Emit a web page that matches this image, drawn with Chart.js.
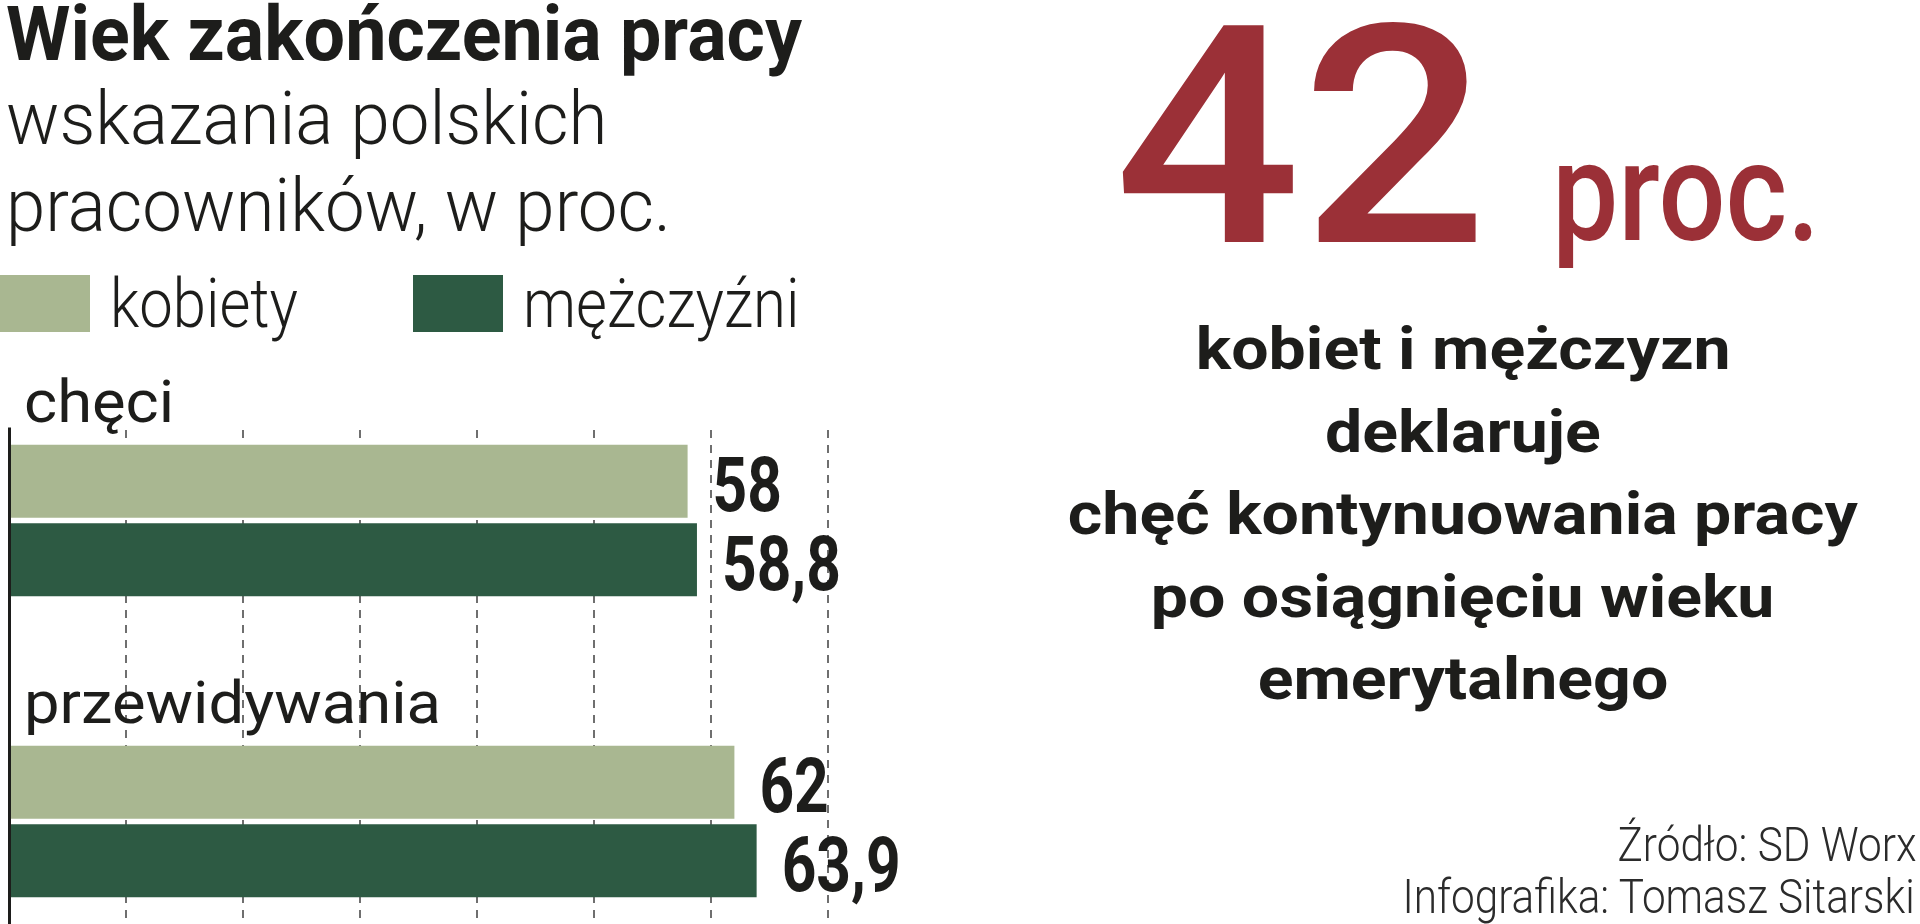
<!DOCTYPE html>
<html lang="pl">
<head>
<meta charset="utf-8">
<title>Wiek zakończenia pracy</title>
<script src="https://cdn.jsdelivr.net/npm/chart.js@4.4.1/dist/chart.umd.min.js"></script>
<style>
    html, body { margin: 0; padding: 0; background: #fff; }
    body { width: 1920px; height: 924px; overflow: hidden; position: relative; font-family: Roboto, "Liberation Sans", sans-serif; color: #1d1d1b; }
    .t { position: absolute; white-space: nowrap; line-height: 1; }
    .swatch { position: absolute; }
    #chartBox { position: absolute; left: 0; top: 0; width: 1920px; height: 980px; }
</style>
</head>
<body>
<div id="chartBox"><canvas id="ageChart"></canvas></div>
<script>
// data
const categories = ['chęci', 'przewidywania'];
const seriesNames = ['kobiety', 'mężczyźni'];
const kobiety = [58, 62];
const mezczyzni = [58.8, 63.9];
const seriesColors = ['#a9b791', '#2d5a43'];
const xMax = 70;
const xStep = 10;

const titleText = 'Wiek zakończenia pracy';
const subtitleLines = ['wskazania polskich', 'pracowników, w proc.'];
const bigNumber = '42';
const bigUnit = 'proc.';
const noteLines = ['kobiet i mężczyzn', 'deklaruje', 'chęć kontynuowania pracy', 'po osiągnięciu wieku', 'emerytalnego'];
const sourceLines = ['Źródło: SD Worx', 'Infografika: Tomasz Sitarski'];

const FONT = 'Roboto';
const measureCtx = document.createElement('canvas').getContext('2d');

function textWidth(text, size, weight) {
    measureCtx.font = weight + ' ' + size + 'px ' + FONT;
    return measureCtx.measureText(text).width;
}

// put one line of text on the page by its baseline; squeeze = horizontal scale
function placeText(text, o) {
    const el = document.createElement('div');
    el.className = 't';
    el.textContent = text;
    el.style.fontSize = o.size + 'px';
    el.style.fontWeight = o.weight;
    el.style.color = o.color || '#1d1d1b';
    const w = textWidth(text, o.size, o.weight);
    let left = o.x;
    let origin = '0 0';
    if (o.align === 'center') { left = o.x - w / 2; origin = '50% 0'; }
    if (o.align === 'right') { left = o.x - w; origin = '100% 0'; }
    el.style.left = left + 'px';
    // Roboto with line-height 1: baseline lies ~0.842em under the box top
    el.style.top = (o.baseline - 0.842 * o.size) + 'px';
    el.style.transformOrigin = origin;
    el.style.transform = 'scaleX(' + (o.squeeze || 1) + ')';
    document.body.appendChild(el);
    return el;
}

// title block
placeText(titleText, { x: 6, baseline: 60, size: 76, weight: 700,
    squeeze: 796 / textWidth(titleText, 76, 700) });
const subSqueeze = 665 / textWidth(subtitleLines[1], 74, 300);
subtitleLines.forEach((line, i) => {
    placeText(line, { x: 6, baseline: 144 + i * 87, size: 74, weight: 300, squeeze: subSqueeze });
});

// legend
const legendX = [0, 413];
const legSqueeze = 188 / textWidth(seriesNames[0], 68, 300);
seriesNames.forEach((name, i) => {
    const sw = document.createElement('div');
    sw.className = 'swatch';
    sw.style.left = legendX[i] + 'px';
    sw.style.top = '275px';
    sw.style.width = '90px';
    sw.style.height = '57px';
    sw.style.background = seriesColors[i];
    document.body.appendChild(sw);
    placeText(name, { x: legendX[i] + 110, baseline: 327, size: 68, weight: 300, squeeze: legSqueeze });
});

// right-hand block
placeText(bigNumber, { x: 1114, baseline: 242, size: 305, weight: 500, color: '#9b3037',
    squeeze: 374 / textWidth(bigNumber, 305, 500) });
placeText(bigUnit, { x: 1552, baseline: 240, size: 140, weight: 500, color: '#9b3037',
    squeeze: 268 / textWidth(bigUnit, 140, 500) });
const noteSqueeze = 790 / textWidth(noteLines[2], 60, 700);
noteLines.forEach((line, i) => {
    placeText(line, { x: 1463, baseline: 370 + i * 82.5, size: 60, weight: 700, align: 'center', squeeze: noteSqueeze });
});
const srcSqueeze = 513 / textWidth(sourceLines[1], 48, 300);
sourceLines.forEach((line, i) => {
    placeText(line, { x: 1916, baseline: 861 + i * 52, size: 48, weight: 300, align: 'right', color: '#2b2b2b', squeeze: srcSqueeze });
});

// category names above each group, value labels after each bar
const barText = {
    id: 'barText',
    afterDraw(chart) {
        const { ctx, chartArea } = chart;
        const yScale = chart.scales.y;
        const gridTop = yScale.getPixelForValue(0) - 93;

        // the grid and the axis start only under the first category name
        ctx.save();
        ctx.fillStyle = '#fff';
        ctx.fillRect(0, chartArea.top - 2, chartArea.right + 4, gridTop - chartArea.top + 2);
        ctx.restore();

        ctx.save();
        ctx.fillStyle = '#1d1d1b';
        ctx.textBaseline = 'alphabetic';
        ctx.font = '400 60px ' + FONT;
        const catSqueeze = 417 / ctx.measureText(categories[1]).width;
        categories.forEach((name, i) => {
            ctx.save();
            ctx.translate(24, yScale.getPixelForValue(i) - 99);
            ctx.scale(catSqueeze, 1);
            ctx.fillText(name, 0, 0);
            ctx.restore();
        });

        ctx.font = '700 76px ' + FONT;
        const valSqueeze = 119 / ctx.measureText('63,9').width;
        chart.data.datasets.forEach((ds, di) => {
            chart.getDatasetMeta(di).data.forEach((bar, i) => {
                const label = String(ds.data[i]).replace('.', ',');
                ctx.save();
                ctx.translate(bar.x + 25, bar.y + 30);
                ctx.scale(valSqueeze, 1);
                ctx.fillText(label, 0, 0);
                ctx.restore();
            });
        });
        ctx.restore();
    }
};

const ageChart = new Chart(document.getElementById('ageChart'), {
    type: 'bar',
    data: {
        labels: categories,
        datasets: [
            { label: seriesNames[0], data: kobiety, backgroundColor: seriesColors[0],
              categoryPercentage: 0.522, barPercentage: 0.93 },
            { label: seriesNames[1], data: mezczyzni, backgroundColor: seriesColors[1],
              categoryPercentage: 0.522, barPercentage: 0.93 }
        ]
    },
    options: {
        indexAxis: 'y',
        responsive: true,
        maintainAspectRatio: false,
        animation: false,
        layout: { padding: { left: 9, right: 1092, top: 370, bottom: 8 } },
        plugins: {
            legend: { display: false },
            tooltip: { enabled: false }
        },
        scales: {
            x: {
                min: 0,
                max: xMax,
                ticks: { display: false, stepSize: xStep },
                grid: {
                    color: (c) => (c.tick && c.tick.value === 0) ? 'rgba(0,0,0,0)' : '#6f6f6f',
                    lineWidth: 2,
                    drawTicks: false
                },
                border: { display: false, dash: [8, 7] }
            },
            y: {
                ticks: { display: false },
                grid: { display: false, drawTicks: false },
                border: { display: true, color: '#1d1d1b', width: 3, z: 1 }
            }
        }
    },
    plugins: [barText]
});
</script>
</body>
</html>
